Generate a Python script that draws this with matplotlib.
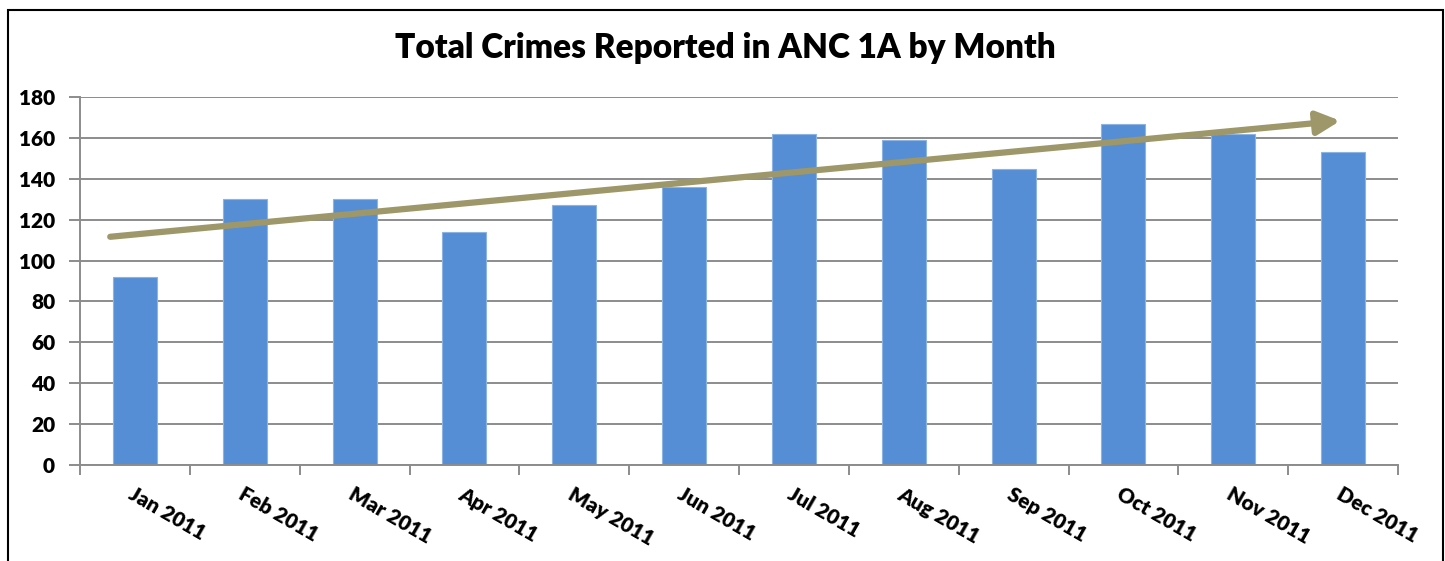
import matplotlib.pyplot as plt
from matplotlib.patches import Rectangle, FancyArrowPatch

months = ["Jan 2011", "Feb 2011", "Mar 2011", "Apr 2011", "May 2011", "Jun 2011",
          "Jul 2011", "Aug 2011", "Sep 2011", "Oct 2011", "Nov 2011", "Dec 2011"]
crimes = [92, 130, 130, 114, 127, 136, 162, 159, 145, 167, 162, 153]

# hand-drawn trend arrow (start / end, in category and value units)
trend_x = [-0.25, 11.0]
trend_y = [111.5, 168.5]

yticks = list(range(0, 181, 20))

plt.rcParams["font.family"] = ["Lato", "DejaVu Sans"]

fig = plt.figure(figsize=(14.45, 5.61), dpi=100)
ax = fig.add_axes([80 / 1445, 1 - 465 / 561, (1398 - 80) / 1445, (465 - 97) / 561])

x = list(range(len(months)))
ax.bar(x, crimes, width=0.4, color="#558ED5", edgecolor="#8DB3E2", linewidth=0.8, zorder=2)

ax.set_xlim(-0.5, len(months) - 0.5)
ax.set_ylim(0, 180)
ax.set_yticks(yticks)
ax.set_yticklabels([str(v) for v in yticks], fontsize=15, fontweight="heavy")
ax.yaxis.grid(True, color="#8C8C8C", linewidth=1.4, zorder=0)
ax.set_axisbelow(True)

# category boundary ticks on x, labels centred under bars
ax.set_xticks([i - 0.5 for i in range(len(months) + 1)])
ax.set_xticklabels([])
ax.set_xticks(x, minor=True)
ax.set_xticklabels(months, minor=True, rotation=-30, ha="left", va="top",
                   rotation_mode="anchor", fontsize=15, fontweight="heavy")
ax.tick_params(axis="x", which="minor", length=0, pad=14)
ax.tick_params(axis="x", which="major", length=7, width=1.4, color="#8C8C8C")
ax.tick_params(axis="y", length=8, width=1.4, color="#8C8C8C", pad=10)

for s in ["top", "right"]:
    ax.spines[s].set_visible(False)
for s in ["left", "bottom"]:
    ax.spines[s].set_color("#8C8C8C")
    ax.spines[s].set_linewidth(1.4)

arrow = FancyArrowPatch((trend_x[0], trend_y[0]), (trend_x[1], trend_y[1]),
                        arrowstyle="-|>,head_length=14,head_width=7",
                        color="#9E976A", linewidth=4.5, mutation_scale=1, zorder=4)
ax.add_patch(arrow)

fig.text(725 / 1445, 1 - 48 / 561, "Total Crimes Reported in ANC 1A by Month",
         ha="center", va="center", fontsize=24, fontweight="heavy")

fig.patches.append(Rectangle((8 / 1445, -0.05), (1443 - 8) / 1445, 1.05 - 10 / 561,
                             transform=fig.transFigure, fill=False,
                             edgecolor="black", linewidth=1.5))

fig.savefig("out.png", dpi=100)
